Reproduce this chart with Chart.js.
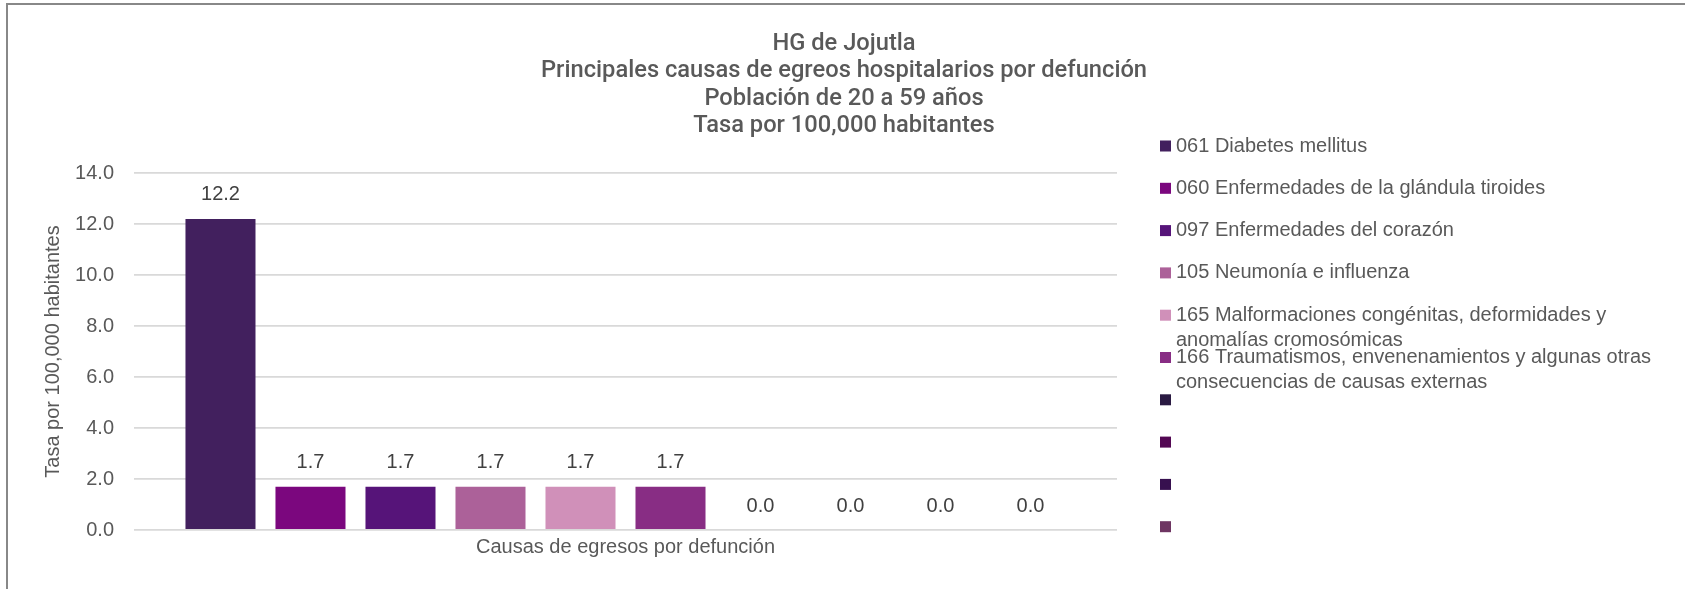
<!DOCTYPE html>
<html>
<head>
<meta charset="utf-8">
<script src="https://cdn.jsdelivr.net/npm/chart.js@4"></script>
<style>
  body { margin: 0; background: #fff; }
  #wrap { position: relative; width: 1685px; height: 589px; overflow: hidden; }
  #frame { position: absolute; left: 6px; top: 3px; width: 1690px; height: 600px;
           border: 2px solid #888; pointer-events: none; }
</style>
</head>
<body>
<div id="wrap">
  <canvas id="chart" width="1685" height="589"></canvas>
  <div id="frame"></div>
</div>
<script>

const titleLines = [
  "HG de Jojutla",
  "Principales causas de egreos hospitalarios por defunción",
  "Población de 20 a 59 años",
  "Tasa por 100,000 habitantes"
];

const causes = [
  ["061 Diabetes mellitus"],
  ["060 Enfermedades de la glándula tiroides"],
  ["097 Enfermedades del corazón"],
  ["105 Neumonía e influenza"],
  ["165 Malformaciones congénitas, deformidades y", "anomalías cromosómicas"],
  ["166 Traumatismos, envenenamientos y algunas otras", "consecuencias de causas externas"],
  [""],
  [""],
  [""],
  [""]
];

const rates = [12.2, 1.7, 1.7, 1.7, 1.7, 1.7, 0.0, 0.0, 0.0, 0.0];

const colors = [
  "#42205e", "#7b077e", "#561479", "#ac6199", "#d090b9",
  "#882d84", "#2a1a42", "#530853", "#37104f", "#6e3562"
];

const yTicks = [0, 2, 4, 6, 8, 10, 12, 14];

const textColor = "#595959";
const fontName = "'Liberation Sans', Arial, sans-serif";

const datasets = causes.map((c, i) => ({
  label: c.join(" "),
  lines: c,
  data: [rates[i]],
  backgroundColor: colors[i],
  categoryPercentage: 0.9156,
  barPercentage: 0.778
}));

// title, value labels and legend are drawn here
const extras = {
  id: "extras",
  afterDatasetsDraw(chart) {
    const ctx = chart.ctx;
    ctx.save();

    ctx.fillStyle = "#404040";
    ctx.font = "20px " + fontName;
    ctx.textAlign = "center";
    ctx.textBaseline = "middle";
    chart.data.datasets.forEach((ds, i) => {
      const bar = chart.getDatasetMeta(i).data[0];
      ctx.fillText(ds.data[0].toFixed(1), bar.x, bar.y - 24);
    });

    ctx.fillStyle = textColor;
    ctx.font = "500 23.7px Roboto, " + fontName;
    titleLines.forEach((t, i) => {
      ctx.fillText(t, 844, 44 + i * 27.4);
    });

    ctx.font = "20px " + fontName;
    ctx.textAlign = "left";
    chart.data.datasets.forEach((ds, i) => {
      const cy = 146 + i * 42.3;
      ctx.fillStyle = ds.backgroundColor;
      ctx.fillRect(1160, cy - 5.5, 11, 11);
      ctx.fillStyle = textColor;
      ds.lines.forEach((line, k) => {
        ctx.fillText(line, 1176, cy + k * 25);
      });
    });

    ctx.restore();
  }
};

new Chart(document.getElementById("chart"), {
  type: "bar",
  data: {
    labels: [""],
    datasets: datasets
  },
  options: {
    responsive: false,
    animation: false,
    devicePixelRatio: 1,
    layout: { padding: { top: 173, right: 568, left: 0, bottom: 0 } },
    plugins: {
      legend: { display: false },
      title: { display: false },
      tooltip: { enabled: false }
    },
    scales: {
      x: {
        grid: { display: false },
        border: { display: false },
        ticks: { display: false },
        title: {
          display: true,
          text: "Causas de egresos por defunción",
          color: textColor,
          font: { family: fontName, size: 20 },
          padding: { top: 0, bottom: 30 }
        },
        afterFit(scale) { scale.height = 59; }
      },
      y: {
        min: 0,
        max: 14,
        afterBuildTicks(scale) { scale.ticks = yTicks.map(v => ({ value: v })); },
        grid: { color: "#d9d9d9", lineWidth: 1.8, drawTicks: false },
        border: { display: false },
        ticks: {
          padding: 20,
          color: textColor,
          font: { family: fontName, size: 20 },
          callback: v => v.toFixed(1)
        },
        title: {
          display: true,
          text: "Tasa por 100,000 habitantes",
          color: textColor,
          font: { family: fontName, size: 20 },
          padding: { top: 41, bottom: 0 }
        },
        afterFit(scale) { scale.width = 134; }
      }
    }
  },
  plugins: [extras]
});

</script>
</body>
</html>
